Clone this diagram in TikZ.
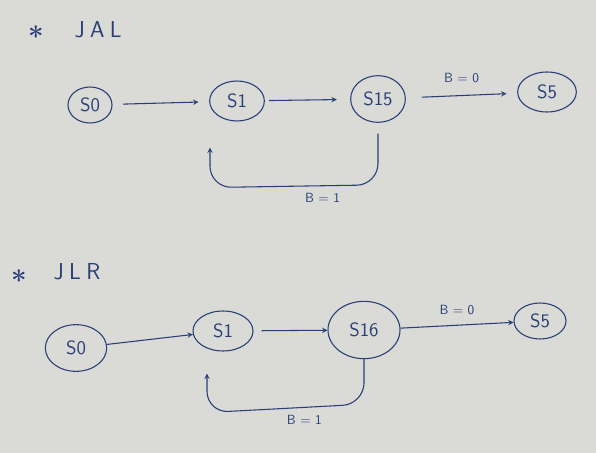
\documentclass[tikz,border=0pt]{standalone}
\usetikzlibrary{positioning}
\usetikzlibrary{arrows,shapes}
\usetikzlibrary{calc}
\definecolor{ink}{RGB}{40,62,118}
\definecolor{paper}{RGB}{218,218,214}
\tikzstyle{state}=[ellipse,draw=ink,thick,inner sep=0pt,font=\sffamily\Large,text=ink]
\tikzstyle{flow}=[->,thick,draw=ink,>=stealth]
\tikzstyle{cond}=[font=\sffamily,text=ink]
\tikzstyle{head}=[font=\sffamily\LARGE,text=ink]
\tikzstyle{star}=[font=\huge\bfseries,text=ink,inner sep=0pt]

\begin{document}
\begin{tikzpicture}[x=0.75pt,y=-0.75pt]

    \fill[paper] (0,0) rectangle (596,453);
    \useasboundingbox (0,0) rectangle (596,453);

%JAL
    \node[star] (jalstar) at (36,36) {*};
    \node[head] (jal) at (98,30) {J\hspace{4pt}A\hspace{4pt}L};

    \foreach \pos/\name/\txt/\w/\h in {{(90,105)/a0/S0/33pt/27pt}, {(237,101)/a1/S1/41pt/30pt}, {(378,99)/a15/S15/41pt/35pt}, {(547,92)/a5/S5/44pt/30pt}}
        \node[state,minimum width=\w,minimum height=\h] (\name) at \pos {\txt};

    \draw[flow, shorten <=8pt, shorten >=8pt] (a0) -- (a1);
    \draw[flow, shorten <=3pt, shorten >=10pt] (a1) -- (a15);
    \draw[flow, shorten <=12pt, shorten >=8pt] (a15) -- node[cond,above=6pt]{B = 0} (a5);

    \coordinate (a1in) at ($(a1.south)+(-27,26)$);
    \draw[flow, rounded corners=16pt, shorten <=8pt] (a15.south) -- ($(a15.south)+(0,62)$)
        -- node[cond,below=2pt,pos=0.33]{B = 1} ($(a1in)+(0,40)$) -- (a1in);

%JLR
    \node[star] (jlrstar) at (19,280) {*};
    \node[head] (jlr) at (77,272) {J\hspace{4pt}L\hspace{4pt}R};

    \foreach \pos/\name/\txt/\w/\h in {{(76,348)/b0/S0/46pt/35pt}, {(223,331)/b1/S1/45pt/30pt}, {(364,330)/b16/S16/54pt/43pt}, {(540,321)/b5/S5/39pt/27pt}}
        \node[state,minimum width=\w,minimum height=\h] (\name) at \pos {\txt};

    \draw[flow] (b0) -- (b1);
    \draw[flow, shorten <=6pt] (b1) -- (b16);
    \draw[flow] (b16) -- node[cond,above=4pt]{B = 0} (b5);

    \coordinate (b1in) at ($(b1.south)+(-16,22)$);
    \draw[flow, rounded corners=16pt] (b16.south) -- ($(b16.south)+(0,45)$)
        -- node[cond,below=2pt,pos=0.38]{B = 1} ($(b1in)+(0,39)$) -- (b1in);

\end{tikzpicture}
\end{document}
